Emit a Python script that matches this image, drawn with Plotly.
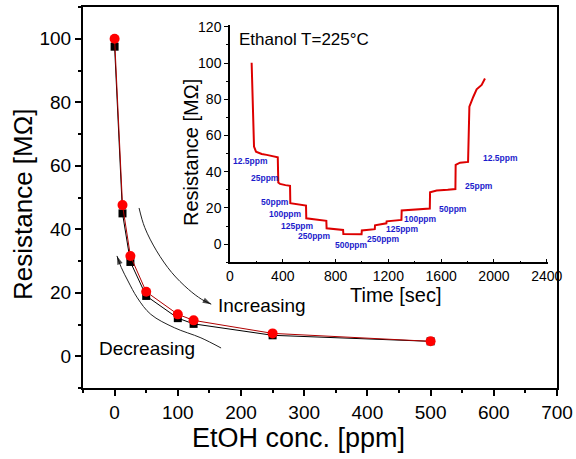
import plotly.graph_objects as go

# ---------------- data ----------------
conc = [0, 12.5, 25, 50, 100, 125, 250, 500]
res_increasing = [100, 47.6, 31.6, 20.3, 13.2, 11.3, 7.2, 4.7]   # red circles
res_decreasing = [97.5, 45.0, 29.7, 19.0, 12.0, 10.2, 6.6, 4.7]  # black squares

# inset: resistance transient (time [s], resistance [MOhm])
time_s = [164, 172, 182, 197, 240, 278, 330, 362, 366, 379, 420, 455, 457, 493, 540, 576, 578,
          632, 700, 730, 732, 800, 857, 859, 920, 997, 999, 1050, 1097, 1099, 1150, 1185, 1187,
          1250, 1299, 1301, 1389, 1470, 1514, 1516, 1566, 1650, 1708, 1710, 1743, 1804, 1806,
          1814, 1844, 1869, 1907, 1932]
res_s = [100.2, 76, 53.9, 51.1, 49.8, 49.3, 48.5, 48.0, 34.0, 33.3, 32.6, 32.2, 22.6, 22.1, 21.6,
         21.3, 14.3, 13.8, 13.2, 12.9, 8.8, 8.3, 7.9, 5.6, 5.5, 5.5, 7.6, 7.8, 8.3, 10.4, 11.0,
         11.5, 12.6, 12.9, 13.4, 18.6, 19.2, 19.5, 19.7, 28.6, 29.6, 30.0, 30.4, 43.8, 45.0, 45.4,
         55.7, 75.9, 81.4, 85.5, 87.9, 91.5]

label_text = ["12.5ppm", "25ppm", "50ppm", "100ppm", "125ppm", "250ppm", "500ppm",
              "250ppm", "125ppm", "100ppm", "50ppm", "25ppm", "12.5ppm"]
label_t = [152, 265, 341, 424, 513, 644, 922, 1160, 1308, 1445, 1692, 1887, 2046]
label_r = [46.1, 36.4, 23.5, 16.4, 10.3, 4.4, -0.6, 3.1, 8.6, 13.8, 19.5, 32.2, 47.4]

# guide arrows on main plot (data coords)
inc_x = [38.7, 47.6, 66.4, 90.3, 116.7, 137.9, 152.9]
inc_y = [46.7, 40.6, 33.2, 26.4, 21.1, 17.9, 16.4]
dec_x = [168.5, 136.6, 94.4, 57.3, 36.0, 21.2, 10.7, 3.7]
dec_y = [2.6, 5.8, 9.0, 13.2, 18.4, 23.7, 27.9, 31.6]

FONT = "Arial, Liberation Sans, sans-serif"

fig = go.Figure()

# main curves
fig.add_trace(go.Scatter(x=conc, y=res_decreasing, mode="lines+markers",
                         line=dict(color="black", width=1),
                         marker=dict(symbol="square", size=8, color="black"),
                         xaxis="x", yaxis="y", showlegend=False))
fig.add_trace(go.Scatter(x=conc, y=res_increasing, mode="lines+markers",
                         line=dict(color="#b00000", width=1),
                         marker=dict(symbol="circle", size=10, color="#ff0000"),
                         xaxis="x", yaxis="y", showlegend=False))

# arrows
for ax_, ay_ in [(inc_x, inc_y), (dec_x, dec_y)]:
    fig.add_trace(go.Scatter(x=ax_, y=ay_, mode="lines+markers",
                             line=dict(color="#222222", width=1, shape="spline"),
                             marker=dict(symbol="arrow", angleref="previous",
                                         size=[0] * (len(ax_) - 1) + [9], color="black",
                                         line=dict(width=0)),
                             xaxis="x", yaxis="y", showlegend=False, hoverinfo="skip"))

# inset curve
fig.add_trace(go.Scatter(x=time_s, y=res_s, mode="lines",
                         line=dict(color="#dd0000", width=2),
                         xaxis="x2", yaxis="y2", showlegend=False))

L, R_, T, B = 83, 19, 7, 71
W, H = 576, 459
pw, ph = W - L - R_, H - T - B


def px(xp):
    return (xp - L) / pw


def py(yp):
    return (H - B - yp) / ph


fig.update_layout(
    width=W, height=H,
    margin=dict(l=L, r=R_, t=T, b=B, autoexpand=False),
    paper_bgcolor="white", plot_bgcolor="white",
    font=dict(family=FONT, color="black"),
    xaxis=dict(range=[-50, 700], showline=True, linewidth=2, linecolor="black", mirror=True,
               showgrid=False, zeroline=False, ticks="outside", ticklen=6, tickwidth=1.5,
               tickcolor="black", dtick=100, tick0=0,
               minor=dict(dtick=50, ticks="outside", ticklen=3, tickcolor="black"),
               tickfont=dict(size=19, family=FONT)),
    yaxis=dict(range=[-10, 110], showline=True, linewidth=2, linecolor="black", mirror=True,
               showgrid=False, zeroline=False, ticks="outside", ticklen=6, tickwidth=1.5,
               tickcolor="black", dtick=20, tick0=0,
               minor=dict(dtick=10, ticks="outside", ticklen=3, tickcolor="black"),
               tickfont=dict(size=19, family=FONT)),
    xaxis2=dict(domain=[px(230), px(548.3)], anchor="y2", range=[0, 2412],
                showline=True, linewidth=1.5, linecolor="black", mirror=False,
                showgrid=False, zeroline=False, ticks="inside", ticklen=4, tickcolor="black",
                dtick=400, tick0=0,
                minor=dict(dtick=200, ticks="inside", ticklen=2, tickcolor="black"),
                tickfont=dict(size=14, family=FONT)),
    yaxis2=dict(domain=[py(262.3), py(25)], anchor="x2", range=[-10, 121],
                showline=True, linewidth=1.5, linecolor="black", mirror=False,
                showgrid=False, zeroline=False, ticks="outside", ticklen=4, tickcolor="black",
                dtick=20, tick0=0,
                minor=dict(dtick=10, ticks="outside", ticklen=2, tickcolor="black"),
                tickfont=dict(size=14, family=FONT)),
)

ann = []
# axis titles
ann.append(dict(text="Resistance [MΩ]", xref="paper", yref="paper", x=px(23), y=py(205),
                textangle=-90, showarrow=False, font=dict(size=26, family=FONT),
                xanchor="center", yanchor="middle"))
ann.append(dict(text="EtOH conc. [ppm]", xref="paper", yref="paper", x=px(298), y=py(438),
                showarrow=False, font=dict(size=27, family=FONT),
                xanchor="center", yanchor="middle"))
ann.append(dict(text="Resistance [MΩ]", xref="paper", yref="paper", x=px(191), y=py(153),
                textangle=-90, showarrow=False, font=dict(size=20, family=FONT),
                xanchor="center", yanchor="middle"))
ann.append(dict(text="Time [sec]", xref="paper", yref="paper", x=px(396), y=py(295),
                showarrow=False, font=dict(size=20, family=FONT),
                xanchor="center", yanchor="middle"))
# main text labels
ann.append(dict(text="Increasing", xref="paper", yref="paper", x=px(216), y=py(305),
                showarrow=False, font=dict(size=19, family=FONT),
                xanchor="left", yanchor="middle"))
ann.append(dict(text="Decreasing", xref="paper", yref="paper", x=px(97), y=py(348),
                showarrow=False, font=dict(size=19, family=FONT),
                xanchor="left", yanchor="middle"))
# inset header
ann.append(dict(text="Ethanol T=225°C", xref="x2", yref="y2", x=53, y=113,
                showarrow=False, font=dict(size=17, family=FONT),
                xanchor="left", yanchor="middle"))
for t, r, s in zip(label_t, label_r, label_text):
    ann.append(dict(text="<b>" + s + "</b>", xref="x2", yref="y2", x=t, y=r,
                    showarrow=False, font=dict(size=8.5, family=FONT, color="#1c1ccc"),
                    xanchor="center", yanchor="middle", borderpad=0))

fig.update_layout(annotations=ann)

fig.write_html("out.html", config={"displayModeBar": False},
               post_script="document.body.style.margin='0';document.body.style.padding='0';")
